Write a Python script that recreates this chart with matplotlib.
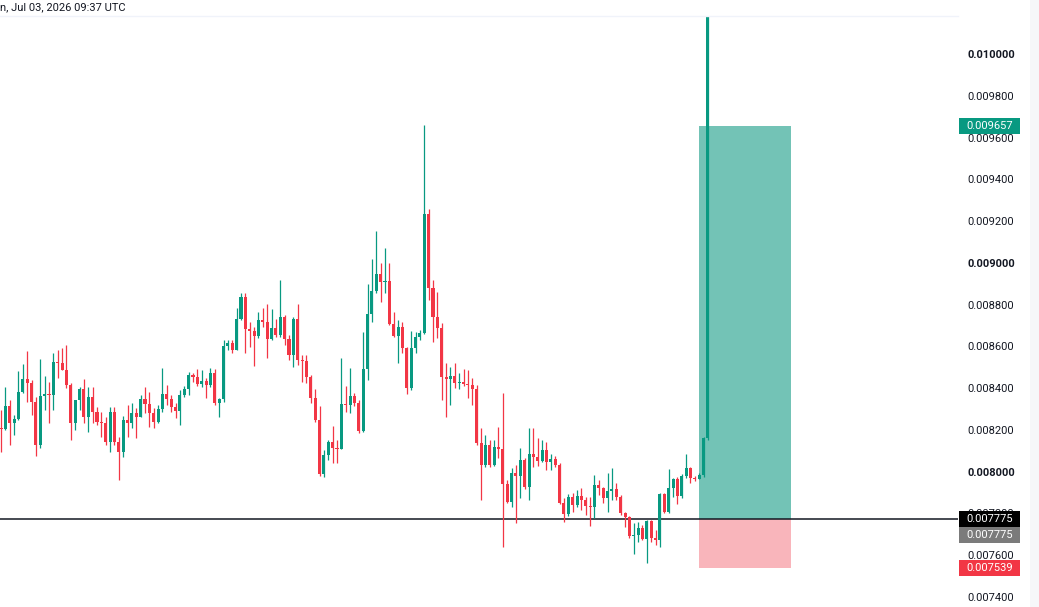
import matplotlib
matplotlib.use('Agg')
import matplotlib.pyplot as plt
import numpy as np
from matplotlib.patches import Rectangle

# prices in millionths (8206 -> 0.008206), one candle per entry
first_open = 8211
close = [8206, 8316, 8234, 8254, 8383, 8445, 8426, 8335, 8129, 8364,
         8373, 8368, 8526, 8522, 8488, 8416, 8234, 8345, 8397, 8263,
         8359, 8287, 8239, 8234, 8144, 8287, 8144, 8096, 8249, 8234,
         8282, 8263, 8349, 8325, 8282, 8239, 8301, 8373, 8349, 8311,
         8292, 8368, 8397, 8464, 8455, 8421, 8435, 8416, 8474, 8330,
         8349, 8603, 8617, 8584, 8732, 8837, 8684, 8675, 8651, 8727,
         8718, 8636, 8689, 8656, 8742, 8636, 8560, 8732, 8536, 8531,
         8455, 8354, 8249, 7990, 8081, 8144, 8115, 8110, 8325, 8321,
         8364, 8330, 8196, 8493, 8756, 8866, 8947, 8909, 8914, 8708,
         8651, 8694, 8593, 8402, 8593, 8646, 8665, 9235, 8880, 8742,
         8689, 8455, 8445, 8459, 8426, 8431, 8421, 8416, 8397, 8139,
         8033, 8129, 8033, 8120, 8110, 7943, 7856, 7995, 7981, 8057,
         7928, 8086, 8072, 8053, 8105, 8048, 8062, 8033, 7852, 7799,
         7880, 7842, 7885, 7866, 7837, 7833, 7938, 7923, 7876, 7909,
         7919, 7880, 7804, 7785, 7694, 7699, 7732, 7679, 7766, 7684,
         7675, 7895, 7809, 7923, 7967, 7885, 7981, 8019, 7971, 7967,
         7986, 8163, 10306]
high = [8297, 8407, 8345, 8273, 8483, 8517, 8579, 8440, 8359, 8541,
        8459, 8431, 8569, 8584, 8593, 8608, 8426, 8345, 8407, 8445,
        8407, 8407, 8311, 8287, 8263, 8311, 8311, 8167, 8268, 8321,
        8330, 8306, 8368, 8407, 8383, 8306, 8321, 8498, 8416, 8368,
        8330, 8392, 8412, 8478, 8474, 8493, 8488, 8450, 8498, 8493,
        8354, 8632, 8632, 8632, 8785, 8857, 8857, 8718, 8694, 8766,
        8785, 8804, 8780, 8732, 8919, 8751, 8656, 8742, 8804, 8560,
        8560, 8464, 8397, 8316, 8105, 8153, 8220, 8153, 8546, 8412,
        8498, 8378, 8345, 8670, 8900, 9019, 9153, 9000, 9072, 9000,
        8766, 8727, 8718, 8598, 8675, 8670, 8680, 9660, 9259, 8919,
        8861, 8713, 8522, 8502, 8522, 8474, 8493, 8488, 8450, 8416,
        8211, 8177, 8153, 8153, 8215, 8378, 7962, 8019, 8033, 8115,
        8067, 8211, 8211, 8163, 8153, 8144, 8086, 8077, 8043, 7876,
        7895, 7900, 7914, 7923, 7880, 7880, 7986, 7962, 7928, 7995,
        8019, 7947, 7890, 7809, 7789, 7756, 7761, 7746, 7770, 7770,
        7722, 7900, 7900, 8014, 7971, 7976, 7990, 8086, 8024, 7981,
        7995, 8167, 10306]
low = [8096, 8201, 8129, 8177, 8249, 8378, 8335, 8273, 8077, 8115,
       8297, 8234, 8297, 8450, 8488, 8402, 8153, 8201, 8297, 8234,
       8191, 8234, 8225, 8167, 8129, 8096, 8129, 7962, 8072, 8167,
       8211, 8163, 8263, 8282, 8215, 8211, 8234, 8287, 8321, 8287,
       8258, 8225, 8359, 8368, 8431, 8412, 8407, 8354, 8407, 8321,
       8263, 8335, 8584, 8569, 8584, 8727, 8569, 8598, 8507, 8641,
       8694, 8546, 8632, 8646, 8646, 8608, 8536, 8502, 8512, 8431,
       8426, 8330, 8239, 7981, 7976, 8057, 8043, 8043, 8110, 8287,
       8282, 8316, 8187, 8191, 8440, 8718, 8857, 8813, 8857, 8703,
       8646, 8522, 8569, 8373, 8392, 8569, 8632, 8660, 8823, 8622,
       8641, 8345, 8263, 8321, 8402, 8397, 8412, 8354, 8321, 8129,
       7866, 8024, 8024, 8029, 8067, 7641, 7852, 7833, 7756, 7876,
       7919, 7866, 8024, 8029, 8048, 8010, 8010, 8024, 7847, 7761,
       7789, 7809, 7833, 7818, 7794, 7742, 7780, 7890, 7852, 7809,
       7866, 7866, 7794, 7737, 7684, 7608, 7665, 7675, 7565, 7665,
       7651, 7641, 7804, 7804, 7880, 7847, 7876, 7971, 7947, 7957,
       7971, 7976, 8153]

# long position tool
entry = 0.007775
target = 0.009657
stop = 0.007539
pos_start, pos_end = 160, 181

price_ticks = [0.0074, 0.0076, 0.0078, 0.0080, 0.0082, 0.0084, 0.0086, 0.0088,
               0.0090, 0.0092, 0.0094, 0.0096, 0.0098, 0.0100]
bold_ticks = [0.0080, 0.0090, 0.0100]
header = 'n, Jul 03, 2026 09:37 UTC'

UP = '#089981'
DOWN = '#f23645'
W, H = 1039, 607

plt.rcParams['font.family'] = ['Roboto', 'DejaVu Sans']

c = np.array(close) / 1e6
o = np.concatenate([[first_open / 1e6], c[:-1]])
hi = np.maximum(np.array(high) / 1e6, np.maximum(o, c))
lo = np.minimum(np.array(low) / 1e6, np.minimum(o, c))
x = np.arange(len(c))

fig = plt.figure(figsize=(W / 100, H / 100), dpi=100)
ax = fig.add_axes([0, 0, 958 / W, (H - 16) / H])
ax.set_xlim(-0.23, 219.3)
ax.set_ylim(0.007352, 0.010182)

# position boxes
ax.add_patch(Rectangle((pos_start, entry), pos_end - pos_start, target - entry,
                       facecolor='#73c3b6', edgecolor='none', zorder=1))
ax.add_patch(Rectangle((pos_start, stop), pos_end - pos_start, entry - stop,
                       facecolor='#f9b5bb', edgecolor='none', zorder=1))
ax.axhline(entry, color='#131722', lw=1.1, zorder=2)

# candles
cols = np.where(c >= o, UP, DOWN)
ax.vlines(x, lo, hi, colors=cols, lw=0.9, zorder=3)
body = np.maximum(np.abs(c - o), 0.000005)
ax.bar(x, body, bottom=np.minimum(o, c), width=0.7, color=cols, zorder=4, linewidth=0)

for s in ax.spines.values():
    s.set_visible(False)
ax.set_xticks([])
ax.yaxis.tick_right()
ax.set_yticks(price_ticks)
ax.set_yticklabels([f'{p:.6f}' for p in price_ticks])
ax.tick_params(axis='y', length=0, pad=6.5, labelsize=8, labelcolor='#131722')
for p, lab in zip(price_ticks, ax.get_yticklabels()):
    if any(abs(p - b) < 1e-9 for b in bold_ticks):
        lab.set_fontweight('bold')


def tag(price, text, color, shift=0):
    y = ax.transData.transform((0, price))[1] - shift
    fig.add_artist(Rectangle((959 / W, (y - 8) / H), 61 / W, 16 / H, transform=fig.transFigure,
                             facecolor=color, edgecolor='none', zorder=5))
    fig.text(966 / W, y / H, text, color='white', fontsize=8, va='center', ha='left', zorder=6)


tag(target, f'{target:.6f}', '#089981')
tag(entry, f'{entry:.6f}', '#000000')
tag(entry, f'{entry:.6f}', '#7b7b7b', shift=16)
tag(stop, f'{stop:.6f}', '#f23645')

# header strip and right edge
fig.add_artist(plt.Line2D([0, 958 / W], [1 - 16 / H, 1 - 16 / H], transform=fig.transFigure,
                          color='#f0f3fa', lw=1))
fig.add_artist(Rectangle((1030 / W, 0), 9 / W, 1, transform=fig.transFigure,
                         facecolor='#f6f7f9', edgecolor='none', zorder=0))
fig.text(0, 1 - 7 / H, header, fontsize=8, color='#131722', va='center', ha='left')

fig.savefig('out.png', dpi=100)
